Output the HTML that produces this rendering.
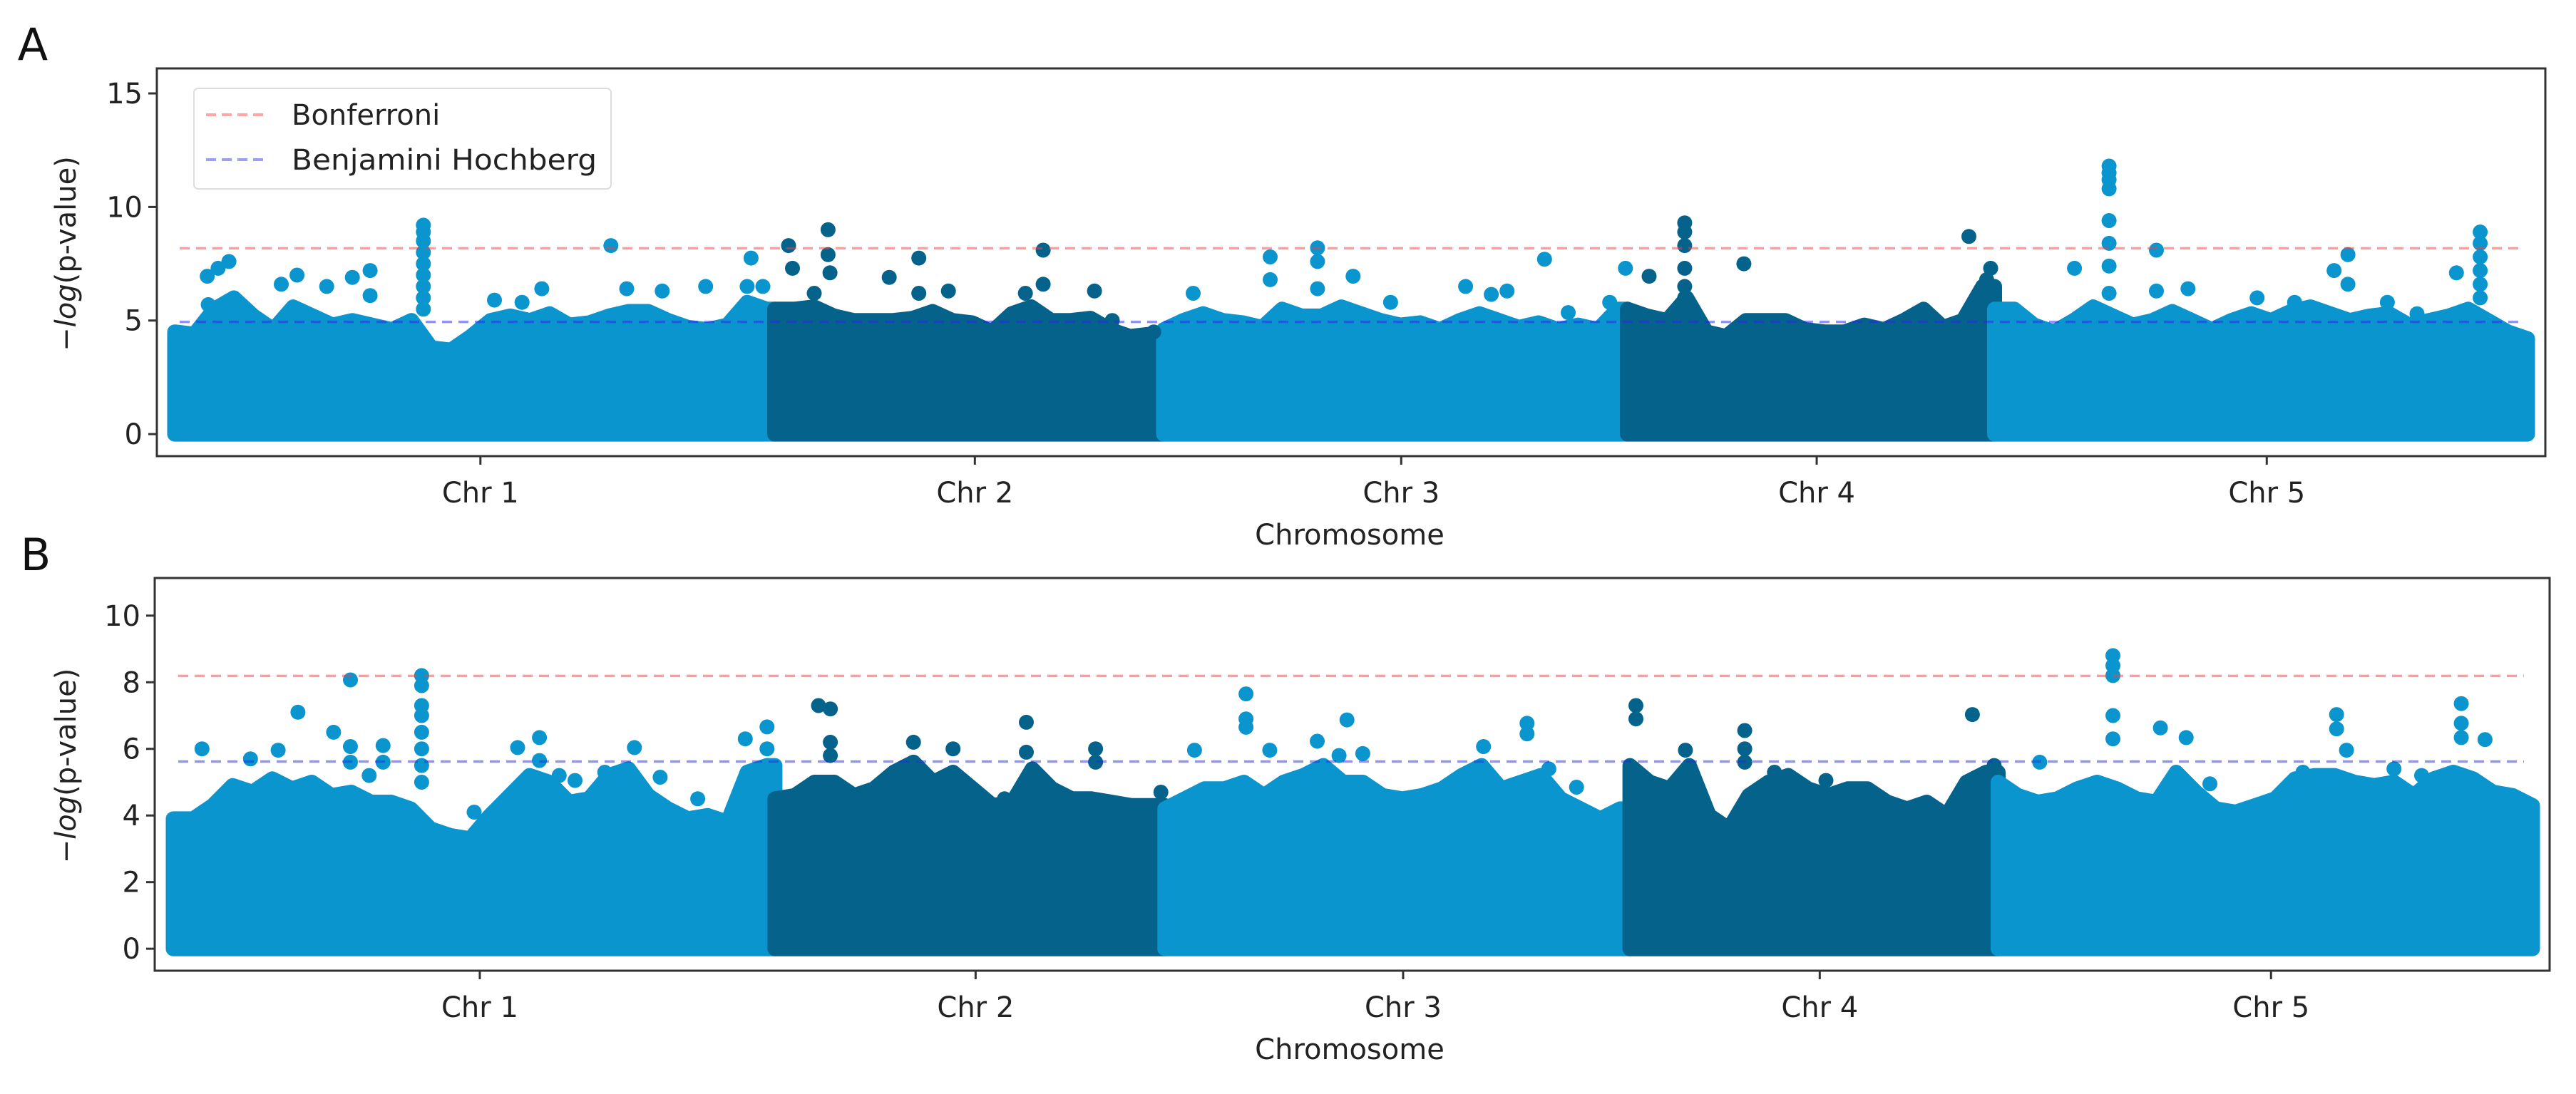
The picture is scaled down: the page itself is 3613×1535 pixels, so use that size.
<!DOCTYPE html>
<html><head><meta charset="utf-8"><title>Manhattan plots</title>
<style>
html,body{margin:0;padding:0;background:#fff;}
svg{display:block;font-family:"DejaVu Sans","Liberation Sans",sans-serif;}
</style></head>
<body>
<svg id="chart" width="3613" height="1535" viewBox="0 0 3613 1535" xmlns="http://www.w3.org/2000/svg"></svg>
<script>
// ---------- data ----------
const chrNames = ["Chr 1","Chr 2","Chr 3","Chr 4","Chr 5"];
const chrLengths = [30.4, 19.7, 23.5, 18.6, 27.0]; // Mb
const bonfA = 8.18, bhA = 4.94;
const bonfB = 8.19, bhB = 5.62;
const yTicksA = [0, 5, 10, 15];
const yTicksB = [0, 2, 4, 6, 8, 10];
// envelope (approx upper edge of dense points) per Mb
const envA = [
 [4.5,4.4,5.5,6.0,5.2,4.6,5.6,5.2,4.8,5.0,4.8,4.6,5.0,3.8,3.7,4.3,5.0,5.2,5.0,5.3,4.8,4.9,5.2,5.4,5.4,5.0,4.7,4.6,4.8,5.8,5.5],
 [5.5,5.5,5.6,5.2,5.0,5.0,5.0,5.1,5.4,5.0,4.9,4.5,5.3,5.6,5.0,5.0,5.1,4.6,4.3,4.4],
 [4.6,5.0,5.3,5.0,4.9,4.7,5.5,5.2,5.2,5.6,5.3,5.0,4.8,4.9,4.6,5.0,5.3,5.0,4.7,4.9,4.6,4.8,4.6,5.5],
 [5.5,5.2,5.0,6.0,4.5,4.3,5.0,5.0,5.0,4.6,4.5,4.5,4.8,4.6,5.0,5.5,4.7,5.0,6.5],
 [5.5,5.5,4.8,4.5,5.0,5.6,5.2,4.8,5.0,5.4,5.0,4.6,5.0,5.3,5.0,5.4,5.6,5.3,5.0,5.2,5.3,4.8,5.0,5.2,5.5,5.0,4.5,4.2]
];
const envB = [
 [3.9,3.9,4.3,4.9,4.7,5.1,4.8,5.0,4.6,4.7,4.4,4.4,4.2,3.6,3.4,3.3,4.0,4.6,5.2,5.0,4.4,4.5,5.2,5.4,4.6,4.2,3.9,4.0,3.8,5.3,5.5],
 [4.5,4.6,5.0,5.0,4.6,4.8,5.3,5.6,5.0,5.3,4.8,4.3,4.4,5.4,4.8,4.5,4.5,4.4,4.3,4.3],
 [4.2,4.5,4.8,4.8,5.0,4.6,5.0,5.2,5.5,5.0,5.0,4.6,4.5,4.6,4.8,5.2,5.5,4.8,5.0,5.2,4.5,4.2,3.9,4.2],
 [5.5,5.0,4.8,5.5,4.0,3.6,4.6,5.0,5.2,4.8,4.6,4.8,4.8,4.4,4.2,4.4,4.0,5.0,5.3],
 [5.0,4.6,4.4,4.5,4.8,5.0,4.8,4.5,4.4,5.3,4.7,4.2,4.1,4.3,4.5,5.1,5.2,5.2,5.0,4.9,5.0,4.6,5.1,5.3,5.1,4.7,4.6,4.3]
];
// individual significant points: [chromosome index, position Mb, -log p]
const peaksA = [
 [0,1.65,6.95],[0,2.2,7.3],[0,2.75,7.6],[0,1.7,5.7],[0,5.4,6.6],[0,6.2,7.0],[0,7.7,6.5],[0,9.0,6.9],[0,9.9,7.2],[0,9.9,6.1],
 [0,12.6,9.2],[0,12.6,8.9],[0,12.6,8.5],[0,12.6,8.0],[0,12.6,7.5],[0,12.6,7.0],[0,12.6,6.5],[0,12.6,6.0],[0,12.6,5.5],
 [0,16.2,5.9],[0,17.6,5.8],[0,18.6,6.4],[0,22.1,8.3],[0,22.9,6.4],[0,24.7,6.3],[0,26.9,6.5],[0,29.2,7.75],[0,29.0,6.5],[0,29.8,6.5],
 [1,0.7,8.3],[1,2.7,9.0],[1,2.7,7.9],[1,2.8,7.1],[1,0.9,7.3],[1,2.0,6.2],[1,5.8,6.9],[1,7.3,7.75],[1,7.3,6.2],[1,8.8,6.3],
 [1,12.7,6.2],[1,13.6,8.1],[1,13.6,6.6],[1,16.2,6.3],[1,17.1,5.0],[1,19.2,4.5],
 [2,1.5,6.2],[2,5.4,7.8],[2,5.4,6.8],[2,7.8,8.2],[2,7.8,7.6],[2,7.8,6.4],[2,9.6,6.95],[2,11.5,5.8],[2,15.3,6.5],[2,16.6,6.15],
 [2,17.4,6.3],[2,19.3,7.7],[2,20.5,5.35],[2,22.6,5.8],[2,23.4,7.3],
 [3,1.1,6.95],[3,2.9,9.3],[3,2.9,8.9],[3,2.9,8.3],[3,2.9,7.3],[3,2.9,6.5],[3,2.9,6.0],[3,5.9,7.5],[3,17.3,8.7],[3,18.4,7.3],[3,18.2,6.8],
 [4,4.05,7.3],[4,5.8,11.8],[4,5.8,11.5],[4,5.8,11.2],[4,5.8,10.8],[4,5.8,9.4],[4,5.8,8.4],[4,5.8,7.4],[4,5.8,6.2],
 [4,8.2,8.1],[4,8.2,6.3],[4,9.8,6.4],[4,17.2,7.2],[4,17.9,7.9],[4,17.9,6.6],[4,23.4,7.1],
 [4,24.6,8.9],[4,24.6,8.4],[4,24.6,7.8],[4,24.6,7.2],[4,24.6,6.6],[4,24.6,6.0],[4,13.3,6.0],[4,15.2,5.8],[4,19.9,5.8],[4,21.4,5.3]
];
const peaksB = [
 [0,1.45,6.0],[0,3.9,5.7],[0,5.3,5.96],[0,6.3,7.1],[0,8.1,6.5],[0,8.95,8.07],[0,8.95,6.07],[0,8.95,5.6],[0,9.9,5.2],[0,10.6,6.1],[0,10.6,5.6],
 [0,12.55,8.2],[0,12.55,7.9],[0,12.55,7.3],[0,12.55,7.0],[0,12.55,6.5],[0,12.55,6.0],[0,12.55,5.5],[0,12.55,5.0],
 [0,15.2,4.1],[0,17.4,6.04],[0,18.5,6.34],[0,18.5,5.65],[0,19.5,5.2],[0,20.3,5.05],[0,21.8,5.3],[0,23.3,6.04],[0,24.6,5.15],[0,26.5,4.5],
 [0,28.9,6.3],[0,30.0,6.66],[0,30.0,6.0],
 [1,2.2,7.3],[1,2.8,7.2],[1,2.8,6.2],[1,2.8,5.8],[1,7.0,6.2],[1,9.0,6.0],[1,12.7,6.8],[1,12.7,5.9],[1,16.2,6.0],[1,16.2,5.6],
 [1,11.6,4.5],[1,17.1,4.35],[1,19.5,4.7],
 [2,1.5,5.96],[2,4.1,7.65],[2,4.1,6.9],[2,4.1,6.65],[2,5.3,5.96],[2,7.7,6.23],[2,9.2,6.87],[2,10.0,5.86],[2,8.8,5.8],
 [2,16.1,6.07],[2,18.3,6.77],[2,18.3,6.45],[2,19.4,5.4],[2,20.8,4.85],
 [3,0.3,7.3],[3,0.3,6.9],[3,2.8,5.96],[3,5.8,6.55],[3,5.8,6.0],[3,5.8,5.6],[3,7.3,5.3],[3,9.9,5.05],[3,17.3,7.03],[3,18.4,5.5],
 [4,2.1,5.6],[4,5.8,8.8],[4,5.8,8.5],[4,5.8,8.2],[4,5.8,7.0],[4,5.8,6.3],[4,8.2,6.63],[4,9.5,6.34],[4,10.7,4.95],
 [4,17.1,7.03],[4,17.1,6.6],[4,17.6,5.96],[4,23.4,7.36],[4,23.4,6.77],[4,23.4,6.34],[4,24.6,6.28],[4,20.0,5.4],[4,21.4,5.2],[4,15.4,5.3]
];

// ---------- layout ----------
const NS = "http://www.w3.org/2000/svg";
const svg = document.getElementById("chart");
const COLORS = ["#0a95cf", "#05638b"];
const R = 10.5;
const panels = [
 {id:"a", letter:"A", lx:46, ly:62, box:{l:220,t:96,r:3570,b:640}, x0:245, x1:3545, ymin:-0.97, ymax:16.1,
  env:envA, peaks:peaksA, ticks:yTicksA, bonf:bonfA, bh:bhA, legend:true, lineX:[252,3532]},
 {id:"b", letter:"B", lx:50, ly:778, box:{l:217,t:811,r:3576,b:1362}, x0:243, x1:3552, ymin:-0.66, ymax:11.13,
  env:envB, peaks:peaksB, ticks:yTicksB, bonf:bonfB, bh:bhB, legend:false, lineX:[250,3540]}
];
const totalLen = chrLengths.reduce((a,b)=>a+b,0);
const offsets = []; {let s=0; chrLengths.forEach(l=>{offsets.push(s); s+=l;});}

function el(tag, attrs, parent){
  const e = document.createElementNS(NS, tag);
  for (const k in attrs) e.setAttribute(k, attrs[k]);
  (parent||svg).appendChild(e);
  return e;
}

panels.forEach(p=>{
  const xs = mb => p.x0 + (mb/totalLen)*(p.x1-p.x0);
  const ys = v => p.box.b - (v - p.ymin)/(p.ymax - p.ymin)*(p.box.b - p.box.t);
  const g = el("g", {});
  
  

  const L = el("text", {x:p.lx, y:p.ly+22, "font-size":62, "text-anchor":"middle", fill:"#111"}, g);
  L.textContent = p.letter;
  
  

  const dg = el("g", {}, g);
  
  
  p.env.forEach((vals, c)=>{
    const col = COLORS[c%2];
    const off = offsets[c];
    let d = "M" + xs(off).toFixed(1) + "," + ys(0).toFixed(1);
    vals.forEach((v,i)=>{
      const mb = Math.min(i, chrLengths[c]);
      d += " L" + xs(off+mb).toFixed(1) + "," + ys(v).toFixed(1);
    });
    d += " L" + xs(off+chrLengths[c]).toFixed(1) + "," + ys(vals[vals.length-1]).toFixed(1);
    d += " L" + xs(off+chrLengths[c]).toFixed(1) + "," + ys(0).toFixed(1) + " Z";
    const path = el("path", {d:d, fill:col, stroke:col, "stroke-width":2*R, "stroke-linejoin":"round"}, dg);
    
    
  });
  p.peaks.forEach(pk=>{
    const c = pk[0];
    const circ = el("circle", {cx:xs(offsets[c]+pk[1]).toFixed(1), cy:ys(pk[2]).toFixed(1), r:R, fill:COLORS[c%2]}, dg);
    
    
  });

  const bl = el("line", {x1:p.lineX[0], x2:p.lineX[1], y1:ys(p.bonf), y2:ys(p.bonf), stroke:"rgba(255,60,60,0.5)", "stroke-width":3.5, "stroke-dasharray":"14 9"}, g);
  
  
  const hl = el("line", {x1:p.lineX[0], x2:p.lineX[1], y1:ys(p.bh), y2:ys(p.bh), stroke:"rgba(40,40,230,0.5)", "stroke-width":3.5, "stroke-dasharray":"14 9"}, g);
  
  

  const fr = el("rect", {x:p.box.l, y:p.box.t, width:p.box.r-p.box.l, height:p.box.b-p.box.t, fill:"none", stroke:"#333", "stroke-width":3}, g);
  
  

  p.ticks.forEach(t=>{
    const y = ys(t);
    const tk = el("line", {x1:p.box.l-12, x2:p.box.l, y1:y, y2:y, stroke:"#333", "stroke-width":3}, g);
    
    
    const tl = el("text", {x:p.box.l-20, y:y+14, "font-size":40, "text-anchor":"end", fill:"#222"}, g);
    tl.textContent = t;
    
    
  });
  const yc = (p.box.t+p.box.b)/2 - 12;
  const yl = el("text", {x:0, y:0, transform:"translate(106," + yc + ") rotate(-90)", "font-size":40, "text-anchor":"middle", fill:"#222"}, g);
  yl.innerHTML = '\u2212<tspan font-style="italic">log</tspan>(p-value)';
  
  

  chrNames.forEach((n,c)=>{
    const x = xs(offsets[c] + chrLengths[c]/2) + 8;
    const tk = el("line", {x1:x, x2:x, y1:p.box.b, y2:p.box.b+12, stroke:"#333", "stroke-width":3}, g);
    
    
    const tl = el("text", {x:x, y:p.box.b+65, "font-size":40, "text-anchor":"middle", fill:"#222"}, g);
    tl.textContent = n;
    
    
  });
  const xl = el("text", {x:1893, y:p.box.b+124, "font-size":40, "text-anchor":"middle", fill:"#222"}, g);
  xl.textContent = "Chromosome";
  
  

  if (p.legend){
    const lg = el("g", {}, g);
    
    
    el("rect", {x:272, y:124, width:585, height:141, rx:6, fill:"rgba(255,255,255,0.9)", stroke:"#ddd", "stroke-width":2}, lg);
    const e1 = el("g", {}, lg);
    
    
    el("line", {x1:289, x2:373, y1:161, y2:161, stroke:"rgba(255,60,60,0.45)", "stroke-width":4, "stroke-dasharray":"14 8"}, e1);
    const t1 = el("text", {x:409, y:175, "font-size":40, fill:"#222"}, e1);
    t1.textContent = "Bonferroni";
    const e2 = el("g", {}, lg);
    
    
    el("line", {x1:289, x2:373, y1:224, y2:224, stroke:"rgba(40,40,230,0.45)", "stroke-width":4, "stroke-dasharray":"14 8"}, e2);
    const t2 = el("text", {x:409, y:238, "font-size":40, fill:"#222", textLength:428, lengthAdjust:"spacingAndGlyphs"}, e2);
    t2.textContent = "Benjamini Hochberg";
  }
});
</script>
</body></html>
